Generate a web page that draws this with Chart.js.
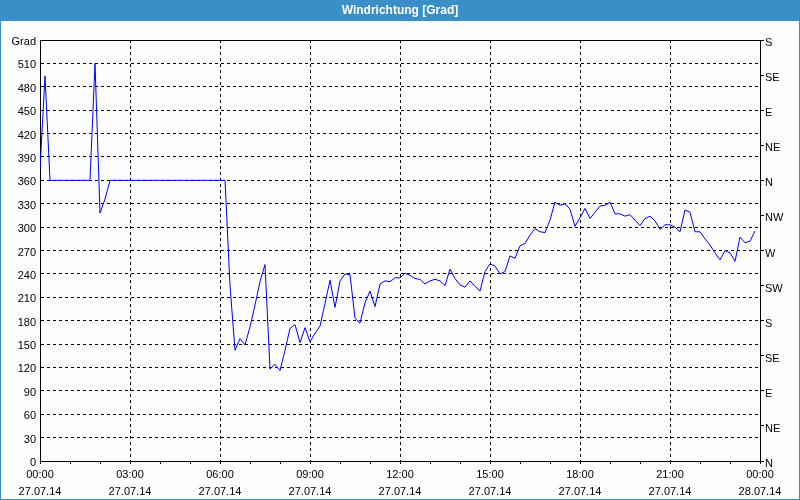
<!DOCTYPE html>
<html>
<head>
<meta charset="utf-8">
<script src="https://cdn.jsdelivr.net/npm/chart.js@4.4.1/dist/chart.umd.min.js"></script>
<style>
  html, body { margin: 0; padding: 0; background: #fcfdfc; }
  canvas { display: block; }
</style>
</head>
<body>
<canvas id="c" width="800" height="500"></canvas>
<script>
// Wind direction in degrees, one reading every 10 minutes from 27.07.14 00:00
const directionValues = [
  374, 494, 360, 360, 360, 360, 360, 360, 360, 360,
  360, 510, 318, 336, 360, 360, 360, 360, 360, 360,
  360, 360, 360, 360, 360, 360, 360, 360, 360, 360,
  360, 360, 360, 360, 360, 360, 360, 360, 225, 142,
  157, 149, 172, 200, 230, 252, 118, 124, 116, 142,
  170, 175, 152, 171, 153, 164, 173, 202, 232, 197,
  231, 240, 239, 183, 177, 203, 218, 198, 227, 231,
  230, 235, 235, 241, 238, 234, 233, 227, 231, 233,
  231, 225, 246, 234, 226, 223, 231, 224, 218, 243,
  253, 250, 240, 243, 263, 260, 276, 279, 290, 298,
  294, 293, 309, 332, 328, 330, 323, 301, 312, 324,
  311, 319, 327, 328, 332, 317, 317, 314, 316, 309,
  302, 311, 314, 308, 297, 303, 303, 300, 294, 322,
  319, 294, 294, 285, 277, 267, 258, 270, 267, 256,
  287, 280, 282, 295
];
const sampleMinutes = directionValues.map((_, i) => i * 10);
const compassLabels = ['N','NE','E','SE','S','SW','W','NW','N','NE','E','SE','S'];
const timeLabels = ['00:00','03:00','06:00','09:00','12:00','15:00','18:00','21:00','00:00'];
const dateLabels = ['27.07.14','27.07.14','27.07.14','27.07.14','27.07.14','27.07.14','27.07.14','27.07.14','28.07.14'];
const leftUnit = 'Grad';
const chartTitle = 'Windrichtung [Grad]';

const FONT = 'Liberation Sans, Arial, sans-serif';
const HEADER = '#3b8fc7';

const frame = {
  id: 'frame',
  beforeDraw(chart) {
    const c = chart.ctx;
    c.save();
    c.fillStyle = '#fcfdfc';
    c.fillRect(0, 0, chart.width, chart.height);
    c.fillStyle = HEADER;
    c.fillRect(0, 0, chart.width, 21);
    c.restore();
  },
  afterDraw(chart) {
    const c = chart.ctx;
    c.save();
    c.strokeStyle = HEADER;
    c.lineWidth = 1;
    c.strokeRect(0.5, 0.5, chart.width - 1, chart.height - 1);
    c.restore();
  }
};

new Chart(document.getElementById('c'), {
  type: 'line',
  data: {
    datasets: [{
      data: sampleMinutes.map((m, i) => ({ x: m, y: directionValues[i] })),
      borderColor: '#0000ff',
      borderWidth: 1,
      pointRadius: 0,
      tension: 0,
      fill: false
    }]
  },
  options: {
    responsive: false,
    animation: false,
    layout: { padding: 0 },
    plugins: {
      legend: { display: false },
      tooltip: { enabled: false },
      title: {
        display: true,
        text: chartTitle,
        color: '#ffffff',
        font: { family: FONT, size: 12, weight: 'bold', lineHeight: 1.2 },
        padding: { top: 3, bottom: 22.6 }
      }
    },
    scales: {
      x: {
        type: 'linear', position: 'bottom', min: 0, max: 1440,
        afterFit(s) { s.height = 39; },
        ticks: {
          stepSize: 60, autoSkip: false, maxRotation: 0, minRotation: 0,
          color: '#000', padding: 3,
          font: { family: FONT, size: 11, lineHeight: 1.5 },
          callback: v => (v % 180 === 0) ? [timeLabels[v / 180], dateLabels[v / 180]] : ''
        },
        grid: {
          color: ctx => (ctx.tick && ctx.tick.value % 180 === 0 && ctx.tick.value > 0 && ctx.tick.value < 1440) ? '#000' : 'rgba(0,0,0,0)',
          tickColor: '#000', tickLength: 3, drawTicks: true, lineWidth: 1
        },
        border: { display: true, color: '#000', dash: [3, 3] }
      },
      xTop: {
        type: 'linear', position: 'top', min: 0, max: 1440,
        afterFit(s) { s.height = 0; },
        ticks: { display: false },
        grid: { display: false, drawTicks: false },
        border: { display: true, color: '#000' }
      },
      y: {
        type: 'linear', position: 'left', min: 0, max: 540,
        afterFit(s) { s.width = 40; },
        ticks: {
          stepSize: 30, color: '#000', padding: 4, labelOffset: 2,
          font: { family: FONT, size: 11 },
          callback: v => v === 540 ? leftUnit : String(v)
        },
        grid: { color: '#000', drawTicks: false, lineWidth: 1 },
        border: { display: true, color: '#000', dash: [3, 3] }
      },
      yRight: {
        type: 'linear', position: 'right', min: 0, max: 540,
        afterFit(s) { s.width = 40; },
        ticks: {
          stepSize: 45, color: '#000', padding: 1, labelOffset: 3,
          font: { family: FONT, size: 11 },
          callback: v => compassLabels[Math.round(v / 45)]
        },
        grid: { drawOnChartArea: false, drawTicks: true, tickLength: 4, color: '#000', tickColor: '#000' },
        border: { display: true, color: '#000' }
      }
    }
  },
  plugins: [frame]
});
</script>
</body>
</html>
